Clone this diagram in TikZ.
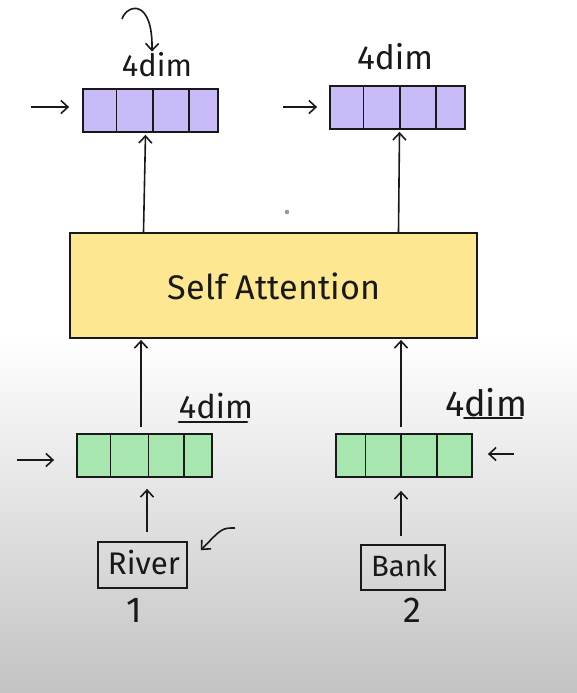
\documentclass[tikz,border=0pt]{standalone}
\usepackage{fontspec}
\setmainfont{Fira Sans}
\usepackage{graphicx}
\usetikzlibrary{arrows.meta,calc}
\definecolor{vecpurple}{RGB}{201,186,248}
\definecolor{vecgreen}{RGB}{168,230,176}
\definecolor{sayellow}{RGB}{253,232,145}
\definecolor{inkc}{RGB}{25,25,25}
\tikzset{
  vecbox/.style={draw=inkc, line width=1.8pt, minimum width=135pt, minimum height=43pt, inner sep=0pt},
  wordbox/.style={draw=inkc, line width=1.6pt, inner sep=0pt},
  arr/.style={draw=inkc, line width=1.6pt, -{Straight Barb[length=7pt,width=13pt,line width=1.6pt]}},
  lbl/.style={text=inkc, inner sep=0pt}
}
\begin{document}
\begin{tikzpicture}[x=1pt,y=-1pt]
\useasboundingbox (0,0) rectangle (577,693);
\fill[white] (0,0) rectangle (577,693);
\shade[top color=white, bottom color=gray!47] (0,335) rectangle (577,693);
\fill[gray!80] (287,212) circle (2.3pt);

% vectors
\node[vecbox, fill=vecpurple] (p1) at (150.5,110.5) {};
\node[vecbox, fill=vecpurple] (p2) at (397.5,107.5) {};
\node[vecbox, fill=vecgreen] (g1) at (144.5,455.5) {};
\node[vecbox, fill=vecgreen, minimum width=136pt] (g2) at (404,455.5) {};
\foreach \n/\fl in {p1/{0.25,0.52,0.78}, p2/{0.25,0.52,0.78}, g1/{0.25,0.53,0.79}, g2/{0.22,0.48,0.74}}{
  \foreach \f in \fl {
    \draw[inkc, line width=1.6pt] ($(\n.south west)!\f!(\n.south east)$) -- ($(\n.north west)!\f!(\n.north east)$);
  }
}

% self attention
\node[draw=inkc, line width=1.8pt, fill=sayellow, minimum width=407pt, minimum height=105pt, inner sep=0pt] (sa) at (273.5,285.5) {};
\node[lbl] (satext) at (274,286) {\resizebox{212pt}{!}{Self Attention}};

% words
\node[wordbox, minimum width=89pt, minimum height=46pt] (river) at (142.5,565) {};
\node[lbl] (rivert) at (144,563) {\resizebox{72pt}{!}{River}};
\node[wordbox, minimum width=84pt, minimum height=45pt] (bank) at (403,567.5) {};
\node[lbl] (bankt) at (404,566) {\resizebox{66pt}{!}{Bank}};
\node[lbl, font=\fontsize{36}{40}\selectfont] (n1) at (134,610) {1};
\node[lbl, font=\fontsize{36}{40}\selectfont] (n2) at (412,610) {2};

% dim labels
\node[lbl] (d1) at (157,65) {\resizebox{70pt}{!}{4dim}};
\node[lbl] (d2) at (395,57) {\resizebox{76pt}{!}{4dim}};
\node[lbl] (d3) at (216,406) {\resizebox{74pt}{!}{4dim}};
\node[lbl] (d4) at (486,403) {\resizebox{82pt}{!}{4dim}};
\draw[inkc, line width=2.8pt, line cap=round] ([xshift=-37pt,yshift=-16pt]d3.center) -- ([xshift=31pt,yshift=-16pt]d3.center);
\draw[inkc, line width=1.8pt, line cap=round] ([xshift=-22pt,yshift=-15pt]d4.center) -- ([xshift=36pt,yshift=-15pt]d4.center);

% vertical arrows
\draw[arr] ([xshift=-3.5pt,yshift=6pt]g1.north) -- ([xshift=-3.5pt,yshift=-1pt]g1.north |- sa.south);
\draw[arr] ([xshift=-3pt,yshift=6pt]g2.north) -- ([xshift=-3pt,yshift=-1pt]g2.north |- sa.south);
\draw[arr] ([xshift=-7pt]p1.south |- sa.north) -- ([xshift=-5pt,yshift=-2pt]p1.south);
\draw[arr] ([xshift=1pt]p2.south |- sa.north) -- ([xshift=2pt,yshift=-2pt]p2.south);
\draw[arr] ([xshift=4.5pt,yshift=9pt]river.north) -- ([xshift=2.5pt,yshift=-11pt]g1.south);
\draw[arr] ([xshift=-2pt,yshift=8pt]bank.north) -- ([xshift=-3pt,yshift=-13pt]g2.south);

% side arrows
\coordinate (s1) at (31,107);
\coordinate (s2) at (283,107);
\coordinate (s3) at (17,460);
\coordinate (s4) at (514,454);
\draw[arr] (s1) -- ([xshift=-13pt,yshift=3.5pt]p1.west);
\draw[arr] (s2) -- ([xshift=-12pt,yshift=0.5pt]p2.west);
\draw[arr] (s3) -- ([xshift=-22pt,yshift=-4.5pt]g1.west);
\draw[arr] (s4) -- ([xshift=15pt,yshift=1.5pt]g2.east);

% curved hints
\coordinate (c1) at (122,19);
\draw[arr] (c1) .. controls (127,4) and (153,-2) .. ([yshift=1pt]d1.north -| 152,0);
\coordinate (c2) at (235,528);
\draw[arr] (c2) .. controls (222,528) .. ([xshift=13pt,yshift=-9pt]river.north east);
\end{tikzpicture}
\end{document}
